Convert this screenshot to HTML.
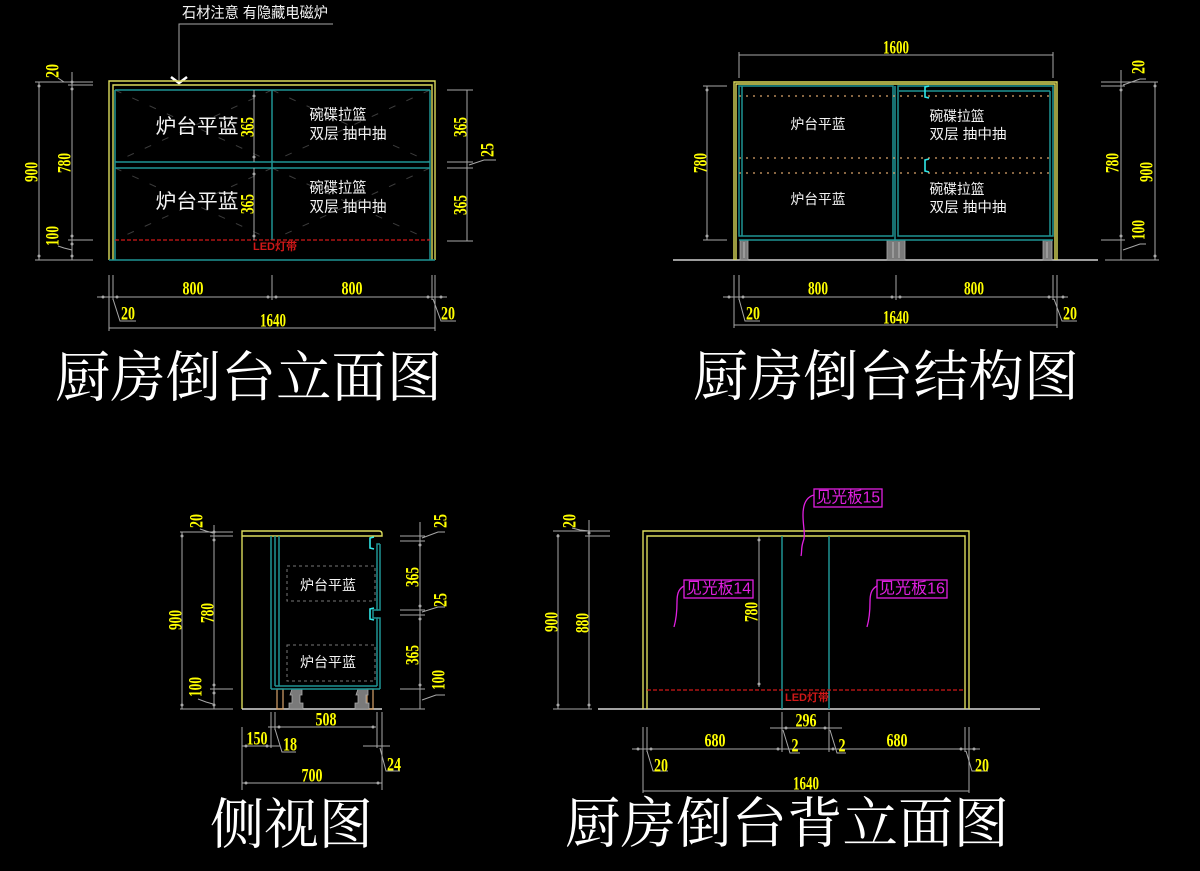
<!DOCTYPE html>
<html><head><meta charset="utf-8"><style>
html,body{margin:0;padding:0;background:#000;}
svg{display:block}
.d{fill:#ffff00;font-family:"Liberation Serif",serif;font-weight:bold;font-size:19px;text-anchor:middle;dominant-baseline:central}
.g{stroke:#a8a8a8;stroke-width:1;fill:none}
.y{stroke:#dcdc5c;stroke-width:1.4;fill:none}
.t{stroke:#1f9494;stroke-width:1.5;fill:none}
.w{fill:#f4f4f4;font-family:"Liberation Sans","Noto Sans CJK SC",sans-serif;text-anchor:middle;dominant-baseline:central}
.ti{fill:#fff;font-family:"Liberation Serif","Noto Serif CJK SC",serif;font-size:55px;dominant-baseline:central}
.m{fill:#e020e0;font-family:"Liberation Sans","Noto Sans CJK SC",sans-serif;font-size:16px;dominant-baseline:central}
.r{fill:#d01818;font-family:"Liberation Sans","Noto Sans CJK SC",sans-serif;font-size:11px;font-weight:bold;text-anchor:middle;dominant-baseline:central}
.dg{stroke:#3c3c3c;stroke-width:1;stroke-dasharray:7 12;fill:none}
.rd{stroke:#d01818;stroke-width:1.3;stroke-dasharray:4 2;fill:none}
.od{stroke:#d9a46a;stroke-width:1.3;stroke-dasharray:2 5;fill:none}
.gd{stroke:#777;stroke-width:1;stroke-dasharray:3 3;fill:none}
.dot{fill:#a8a8a8}
</style></head><body>
<svg width="1200" height="871" viewBox="0 0 1200 871" xmlns="http://www.w3.org/2000/svg">
<rect width="1200" height="871" fill="#000"/>

<!-- ================= TOP LEFT ================= -->
<text class="w" x="255" y="13" font-size="15" textLength="146" lengthAdjust="spacingAndGlyphs">石材注意 有隐藏电磁炉</text>
<polyline class="g" points="333,24 179,24 179,80"/>
<polyline points="171,77 179,83 187,77" stroke="#fff" stroke-width="2.5" fill="none"/>

<g class="dg">
<line x1="115" y1="90" x2="272" y2="162"/><line x1="272" y1="90" x2="115" y2="162"/>
<line x1="272" y1="90" x2="430" y2="162"/><line x1="430" y1="90" x2="272" y2="162"/>
<line x1="115" y1="168" x2="272" y2="240"/><line x1="272" y1="168" x2="115" y2="240"/>
<line x1="272" y1="168" x2="430" y2="240"/><line x1="430" y1="168" x2="272" y2="240"/>
</g>
<polyline class="y" points="109,260 109,81 435,81 435,260"/>
<polyline class="y" points="113,260 113,85 432,85 432,260"/>
<g class="t">
<line x1="115" y1="90" x2="430" y2="90"/>
<line x1="115" y1="162" x2="430" y2="162"/>
<line x1="115" y1="168" x2="430" y2="168"/>
<line x1="109" y1="260" x2="435" y2="260"/>
<line x1="115" y1="90" x2="115" y2="260"/>
<line x1="430" y1="90" x2="430" y2="260"/>
<line x1="272" y1="90" x2="272" y2="240"/>
</g>
<line class="rd" x1="115" y1="240" x2="430" y2="240"/>
<text class="r" x="275" y="247">LED灯带</text>
<line class="g" x1="254" y1="90" x2="254" y2="162"/>
<line class="g" x1="254" y1="168" x2="254" y2="240"/>
<circle class="dot" cx="254" cy="96" r="1.5"/><circle class="dot" cx="254" cy="157" r="1.5"/>
<circle class="dot" cx="254" cy="174" r="1.5"/><circle class="dot" cx="254" cy="236" r="1.5"/>
<text class="d" transform="translate(248,127) rotate(-90)" textLength="20" lengthAdjust="spacingAndGlyphs">365</text>
<text class="d" transform="translate(248,204) rotate(-90)" textLength="20" lengthAdjust="spacingAndGlyphs">365</text>
<text class="w" x="197" y="127" font-size="20" textLength="83" lengthAdjust="spacingAndGlyphs">炉台平蓝</text>
<text class="w" x="197" y="202" font-size="20" textLength="83" lengthAdjust="spacingAndGlyphs">炉台平蓝</text>
<text class="w" x="338" y="115" font-size="15" textLength="57" lengthAdjust="spacingAndGlyphs">碗碟拉篮</text>
<text class="w" x="348" y="134" font-size="15" textLength="77" lengthAdjust="spacingAndGlyphs">双层 抽中抽</text>
<text class="w" x="338" y="188" font-size="15" textLength="57" lengthAdjust="spacingAndGlyphs">碗碟拉篮</text>
<text class="w" x="348" y="207" font-size="15" textLength="77" lengthAdjust="spacingAndGlyphs">双层 抽中抽</text>
<g class="g">
<line x1="35" y1="82" x2="93" y2="82"/><line x1="68" y1="85" x2="93" y2="85"/>
<line x1="68" y1="240" x2="93" y2="240"/><line x1="35" y1="260" x2="93" y2="260"/>
<line x1="39" y1="82" x2="39" y2="260"/>
<line x1="72" y1="72" x2="72" y2="260"/>
<polyline points="58,78 64,82 72,82"/><polyline points="58,246 64,248 72,250"/>
</g>
<circle class="dot" cx="39" cy="86" r="1.5"/><circle class="dot" cx="39" cy="256" r="1.5"/>
<circle class="dot" cx="72" cy="82" r="1.5"/><circle class="dot" cx="72" cy="89" r="1.5"/>
<circle class="dot" cx="72" cy="236" r="1.5"/><circle class="dot" cx="72" cy="244" r="1.5"/><circle class="dot" cx="72" cy="256" r="1.5"/>
<text class="d" transform="translate(32,172) rotate(-90)" textLength="20" lengthAdjust="spacingAndGlyphs">900</text>
<text class="d" transform="translate(65,163) rotate(-90)" textLength="20" lengthAdjust="spacingAndGlyphs">780</text>
<text class="d" transform="translate(53,71) rotate(-90)" textLength="14" lengthAdjust="spacingAndGlyphs">20</text>
<text class="d" transform="translate(53,236) rotate(-90)" textLength="20" lengthAdjust="spacingAndGlyphs">100</text>
<g class="g">
<line x1="447" y1="90" x2="473" y2="90"/><line x1="447" y1="162" x2="473" y2="162"/>
<line x1="447" y1="168" x2="473" y2="168"/><line x1="447" y1="241" x2="473" y2="241"/>
<line x1="467" y1="90" x2="467" y2="241"/>
<polyline points="469,165 484,160 496,160"/>
</g>
<text class="d" transform="translate(461,127) rotate(-90)" textLength="20" lengthAdjust="spacingAndGlyphs">365</text>
<text class="d" transform="translate(461,205) rotate(-90)" textLength="20" lengthAdjust="spacingAndGlyphs">365</text>
<text class="d" transform="translate(488,150) rotate(-90)" textLength="14" lengthAdjust="spacingAndGlyphs">25</text>
<g class="g">
<line x1="109" y1="275" x2="109" y2="331"/><line x1="113" y1="275" x2="113" y2="300"/>
<line x1="272" y1="275" x2="272" y2="300"/><line x1="432" y1="275" x2="432" y2="300"/>
<line x1="435" y1="275" x2="435" y2="331"/>
<line x1="97" y1="297" x2="447" y2="297"/>
<line x1="109" y1="328" x2="435" y2="328"/>
<polyline points="113,299 120,321 136,321"/><polyline points="433,299 441,321 456,321"/>
</g>
<circle class="dot" cx="103" cy="297" r="1.5"/><circle class="dot" cx="117" cy="297" r="1.5"/><circle class="dot" cx="268" cy="297" r="1.5"/>
<circle class="dot" cx="276" cy="297" r="1.5"/><circle class="dot" cx="428" cy="297" r="1.5"/><circle class="dot" cx="441" cy="297" r="1.5"/>
<text class="d" x="193" y="289" textLength="21" lengthAdjust="spacingAndGlyphs">800</text>
<text class="d" x="352" y="289" textLength="21" lengthAdjust="spacingAndGlyphs">800</text>
<text class="d" x="128" y="314" textLength="14" lengthAdjust="spacingAndGlyphs">20</text>
<text class="d" x="448" y="314" textLength="14" lengthAdjust="spacingAndGlyphs">20</text>
<text class="d" x="273" y="321" textLength="26" lengthAdjust="spacingAndGlyphs">1640</text>

<text class="ti" x="55" y="378" textLength="387" lengthAdjust="spacingAndGlyphs">厨房倒台立面图</text>

<!-- ================= TOP RIGHT ================= -->
<g class="g">
<line x1="739" y1="52" x2="739" y2="78"/><line x1="1053" y1="52" x2="1053" y2="78"/>
<line x1="739" y1="55" x2="1053" y2="55"/>
</g>
<text class="d" x="896" y="48" textLength="26" lengthAdjust="spacingAndGlyphs">1600</text>
<line x1="673" y1="260" x2="1098" y2="260" stroke="#d0d0d0" stroke-width="1.4"/>
<g fill="#7a7a7a" stroke="#aaa" stroke-width="0.8">
<rect x="740" y="240" width="8" height="20"/>
<rect x="887" y="240" width="18" height="20"/>
<rect x="1043" y="240" width="9" height="20"/>
</g>
<g stroke="#ccc" stroke-width="0.8">
<line x1="744" y1="242" x2="744" y2="258"/><line x1="893" y1="242" x2="893" y2="258"/><line x1="899" y1="242" x2="899" y2="258"/><line x1="1047" y1="242" x2="1047" y2="258"/>
</g>
<polyline class="y" points="734,260 734,82 1057,82 1057,260"/>
<polyline class="y" points="736,260 736,84 1055,84 1055,260"/>
<g class="t">
<rect x="739" y="86" width="154" height="150"/>
<line x1="742" y1="86" x2="742" y2="236"/>
<rect x="898" y="86" width="155" height="150"/>
<line x1="899" y1="91" x2="1050" y2="91"/>
<line x1="1050" y1="91" x2="1050" y2="236"/>
<line x1="895" y1="86" x2="895" y2="240"/>
<line x1="739" y1="240" x2="1053" y2="240"/>
</g>
<line class="od" x1="739" y1="96" x2="1053" y2="96"/>
<line class="od" x1="739" y1="158" x2="1053" y2="158"/>
<line class="od" x1="739" y1="173" x2="1053" y2="173"/>
<g stroke="#30e8e8" stroke-width="1.6" fill="none">
<polyline points="929,86 925,87 925,97 929,98"/>
<polyline points="929,159 925,160 925,171 929,172"/>
</g>
<text class="w" x="818" y="124" font-size="14" textLength="55" lengthAdjust="spacingAndGlyphs">炉台平蓝</text>
<text class="w" x="818" y="199" font-size="14" textLength="55" lengthAdjust="spacingAndGlyphs">炉台平蓝</text>
<text class="w" x="957" y="116" font-size="14" textLength="55" lengthAdjust="spacingAndGlyphs">碗碟拉篮</text>
<text class="w" x="968" y="134" font-size="14" textLength="77" lengthAdjust="spacingAndGlyphs">双层 抽中抽</text>
<text class="w" x="957" y="189" font-size="14" textLength="55" lengthAdjust="spacingAndGlyphs">碗碟拉篮</text>
<text class="w" x="968" y="207" font-size="14" textLength="77" lengthAdjust="spacingAndGlyphs">双层 抽中抽</text>
<g class="g">
<line x1="703" y1="86" x2="727" y2="86"/><line x1="703" y1="240" x2="727" y2="240"/>
<line x1="707" y1="86" x2="707" y2="240"/>
</g>
<circle class="dot" cx="707" cy="90" r="1.5"/><circle class="dot" cx="707" cy="236" r="1.5"/>
<text class="d" transform="translate(701,163) rotate(-90)" textLength="20" lengthAdjust="spacingAndGlyphs">780</text>
<g class="g">
<line x1="1101" y1="82" x2="1158" y2="82"/><line x1="1101" y1="86" x2="1125" y2="86"/>
<line x1="1101" y1="240" x2="1125" y2="240"/><line x1="1105" y1="260" x2="1159" y2="260"/>
<line x1="1121" y1="70" x2="1121" y2="260"/>
<line x1="1155" y1="82" x2="1155" y2="260"/>
<polyline points="1123,85 1140,79 1146,79"/><polyline points="1123,250 1140,244 1146,244"/>
</g>
<circle class="dot" cx="1121" cy="90" r="1.5"/><circle class="dot" cx="1121" cy="236" r="1.5"/>
<circle class="dot" cx="1155" cy="86" r="1.5"/><circle class="dot" cx="1155" cy="256" r="1.5"/>
<text class="d" transform="translate(1113,163) rotate(-90)" textLength="20" lengthAdjust="spacingAndGlyphs">780</text>
<text class="d" transform="translate(1147,172) rotate(-90)" textLength="20" lengthAdjust="spacingAndGlyphs">900</text>
<text class="d" transform="translate(1139,67) rotate(-90)" textLength="14" lengthAdjust="spacingAndGlyphs">20</text>
<text class="d" transform="translate(1139,230) rotate(-90)" textLength="20" lengthAdjust="spacingAndGlyphs">100</text>
<g class="g">
<line x1="734" y1="275" x2="734" y2="328"/><line x1="739" y1="275" x2="739" y2="300"/>
<line x1="896" y1="275" x2="896" y2="300"/><line x1="1053" y1="275" x2="1053" y2="300"/>
<line x1="1057" y1="275" x2="1057" y2="328"/>
<line x1="723" y1="297" x2="1068" y2="297"/>
<line x1="734" y1="325" x2="1057" y2="325"/>
<polyline points="739,299 745,321 760,321"/><polyline points="1054,299 1062,321 1077,321"/>
</g>
<circle class="dot" cx="729" cy="297" r="1.5"/><circle class="dot" cx="743" cy="297" r="1.5"/><circle class="dot" cx="892" cy="297" r="1.5"/>
<circle class="dot" cx="900" cy="297" r="1.5"/><circle class="dot" cx="1049" cy="297" r="1.5"/><circle class="dot" cx="1063" cy="297" r="1.5"/>
<text class="d" x="818" y="289" textLength="20" lengthAdjust="spacingAndGlyphs">800</text>
<text class="d" x="974" y="289" textLength="20" lengthAdjust="spacingAndGlyphs">800</text>
<text class="d" x="753" y="314" textLength="14" lengthAdjust="spacingAndGlyphs">20</text>
<text class="d" x="1070" y="314" textLength="14" lengthAdjust="spacingAndGlyphs">20</text>
<text class="d" x="896" y="318" textLength="26" lengthAdjust="spacingAndGlyphs">1640</text>

<text class="ti" x="693" y="377" textLength="386" lengthAdjust="spacingAndGlyphs">厨房倒台结构图</text>

<!-- ================= SIDE VIEW ================= -->
<path class="y" d="M242,709 L242,531 L379,531 Q382,531 382,534 L382,536 L242,536"/>
<line x1="242" y1="709" x2="382" y2="709" stroke="#d8d8d8" stroke-width="1.4"/>
<g stroke="#d9a46a" stroke-width="1.2" fill="none">
<rect x="277" y="689" width="6" height="20"/>
<rect x="367" y="689" width="6" height="20"/>
</g>
<g fill="#7a7a7a" stroke="#aaa" stroke-width="0.8">
<path d="M292,689 h10 v6 h-2 v8 h3 v6 h-14 v-6 h3 v-8 h-2 z"/>
<path d="M358,689 h10 v6 h-2 v8 h3 v6 h-14 v-6 h3 v-8 h-2 z"/>
</g>
<g class="t">
<line x1="271" y1="536" x2="271" y2="689"/>
<line x1="275" y1="536" x2="275" y2="686"/>
<line x1="279" y1="536" x2="279" y2="686"/>
<line x1="271" y1="689" x2="380" y2="689"/>
<line x1="275" y1="686" x2="377" y2="686"/>
<polyline points="380,544 377,544 377,610 373,610 373,618 377,618 377,686"/>
<polyline points="380,689 380,618 377,618"/>
<polyline points="380,544 380,610 377,610"/>
</g>
<g stroke="#30e8e8" stroke-width="1.6" fill="none">
<polyline points="374,537 370,538 370,548 374,549"/>
<polyline points="374,608 370,609 370,619 374,620"/>
</g>
<rect class="gd" x="287" y="566" width="88" height="35"/>
<rect class="gd" x="287" y="645" width="88" height="36"/>
<text class="w" x="328" y="585" font-size="14" textLength="56" lengthAdjust="spacingAndGlyphs">炉台平蓝</text>
<text class="w" x="328" y="662" font-size="14" textLength="56" lengthAdjust="spacingAndGlyphs">炉台平蓝</text>
<g class="g">
<line x1="180" y1="532" x2="233" y2="532"/><line x1="210" y1="536" x2="233" y2="536"/>
<line x1="210" y1="689" x2="233" y2="689"/><line x1="180" y1="709" x2="233" y2="709"/>
<line x1="182" y1="532" x2="182" y2="709"/>
<line x1="214" y1="525" x2="214" y2="709"/>
<polyline points="200,529 206,531 213,533"/><polyline points="198,699 206,702 213,704"/>
</g>
<circle class="dot" cx="182" cy="536" r="1.5"/><circle class="dot" cx="182" cy="705" r="1.5"/>
<circle class="dot" cx="214" cy="532" r="1.5"/><circle class="dot" cx="214" cy="540" r="1.5"/>
<circle class="dot" cx="214" cy="685" r="1.5"/><circle class="dot" cx="214" cy="693" r="1.5"/><circle class="dot" cx="214" cy="705" r="1.5"/>
<text class="d" transform="translate(176,620) rotate(-90)" textLength="20" lengthAdjust="spacingAndGlyphs">900</text>
<text class="d" transform="translate(208,613) rotate(-90)" textLength="20" lengthAdjust="spacingAndGlyphs">780</text>
<text class="d" transform="translate(197,521) rotate(-90)" textLength="14" lengthAdjust="spacingAndGlyphs">20</text>
<text class="d" transform="translate(196,687) rotate(-90)" textLength="20" lengthAdjust="spacingAndGlyphs">100</text>
<g class="g">
<line x1="400" y1="536" x2="425" y2="536"/><line x1="400" y1="541" x2="425" y2="541"/>
<line x1="400" y1="610" x2="425" y2="610"/><line x1="400" y1="615" x2="425" y2="615"/>
<line x1="400" y1="689" x2="425" y2="689"/><line x1="400" y1="709" x2="425" y2="709"/>
<line x1="420" y1="522" x2="420" y2="709"/>
<polyline points="422,538 438,532 445,532"/><polyline points="422,612 438,607 445,607"/><polyline points="422,700 436,695 445,695"/>
</g>
<circle class="dot" cx="420" cy="545" r="1.5"/><circle class="dot" cx="420" cy="606" r="1.5"/>
<circle class="dot" cx="420" cy="619" r="1.5"/><circle class="dot" cx="420" cy="685" r="1.5"/>
<text class="d" transform="translate(441,521) rotate(-90)" textLength="14" lengthAdjust="spacingAndGlyphs">25</text>
<text class="d" transform="translate(413,577) rotate(-90)" textLength="20" lengthAdjust="spacingAndGlyphs">365</text>
<text class="d" transform="translate(441,600) rotate(-90)" textLength="14" lengthAdjust="spacingAndGlyphs">25</text>
<text class="d" transform="translate(413,655) rotate(-90)" textLength="20" lengthAdjust="spacingAndGlyphs">365</text>
<text class="d" transform="translate(439,680) rotate(-90)" textLength="20" lengthAdjust="spacingAndGlyphs">100</text>
<g class="g">
<line x1="271" y1="712" x2="271" y2="748"/><line x1="275" y1="712" x2="275" y2="730"/>
<line x1="377" y1="712" x2="377" y2="748"/>
<line x1="242" y1="727" x2="242" y2="790"/><line x1="382" y1="712" x2="382" y2="790"/>
<line x1="268" y1="727" x2="376" y2="727"/>
<line x1="242" y1="746" x2="280" y2="746"/>
<line x1="363" y1="746" x2="390" y2="746"/>
<line x1="242" y1="783" x2="382" y2="783"/>
<polyline points="275,729 282,752 296,752"/><polyline points="380,748 386,771 400,771"/>
</g>
<circle class="dot" cx="246" cy="746" r="1.5"/><circle class="dot" cx="267" cy="746" r="1.5"/>
<circle class="dot" cx="279" cy="727" r="1.5"/><circle class="dot" cx="373" cy="727" r="1.5"/>
<circle class="dot" cx="246" cy="783" r="1.5"/><circle class="dot" cx="378" cy="783" r="1.5"/>
<text class="d" x="326" y="720" textLength="21" lengthAdjust="spacingAndGlyphs">508</text>
<text class="d" x="257" y="739" textLength="21" lengthAdjust="spacingAndGlyphs">150</text>
<text class="d" x="290" y="745" textLength="14" lengthAdjust="spacingAndGlyphs">18</text>
<text class="d" x="394" y="765" textLength="14" lengthAdjust="spacingAndGlyphs">24</text>
<text class="d" x="312" y="776" textLength="21" lengthAdjust="spacingAndGlyphs">700</text>

<text class="ti" x="210" y="825" textLength="163" lengthAdjust="spacingAndGlyphs">侧视图</text>

<!-- ================= BACK ELEVATION ================= -->
<line x1="598" y1="709" x2="1040" y2="709" stroke="#d8d8d8" stroke-width="1.4"/>
<polyline class="y" points="643,709 643,531 969,531 969,709"/>
<polyline class="y" points="647,709 647,536 965,536 965,709"/>
<g class="t">
<line x1="782" y1="536" x2="782" y2="709"/>
<line x1="829" y1="536" x2="829" y2="709"/>
</g>
<line class="rd" x1="647" y1="690" x2="965" y2="690"/>
<text class="r" x="807" y="698">LED灯带</text>
<line class="g" x1="759" y1="536" x2="759" y2="687"/>
<circle class="dot" cx="759" cy="540" r="1.5"/><circle class="dot" cx="759" cy="684" r="1.5"/>
<text class="d" transform="translate(752,612) rotate(-90)" textLength="20" lengthAdjust="spacingAndGlyphs">780</text>
<g stroke="#e020e0" stroke-width="1.3" fill="none">
<rect x="814" y="489" width="68" height="18"/>
<path d="M814,495 C806,497 803,505 803,515 C803,528 806,535 803,542 C801,548 802,552 801,556"/>
<rect x="684" y="580" width="69" height="18"/>
<path d="M684,586 C678,589 677,595 677,602 C677,612 676,620 674,627"/>
<rect x="877" y="580" width="70" height="18"/>
<path d="M877,586 C871,589 870,595 870,602 C870,612 869,620 867,627"/>
</g>
<text class="m" x="816" y="498" textLength="64" lengthAdjust="spacingAndGlyphs">见光板15</text>
<text class="m" x="686" y="589" textLength="65" lengthAdjust="spacingAndGlyphs">见光板14</text>
<text class="m" x="879" y="589" textLength="66" lengthAdjust="spacingAndGlyphs">见光板16</text>
<g class="g">
<line x1="553" y1="531" x2="610" y2="531"/><line x1="585" y1="536" x2="610" y2="536"/>
<line x1="553" y1="709" x2="592" y2="709"/>
<line x1="558" y1="534" x2="558" y2="709"/>
<line x1="589" y1="520" x2="589" y2="709"/>
<polyline points="572,528 580,530 589,531"/>
</g>
<circle class="dot" cx="558" cy="536" r="1.5"/><circle class="dot" cx="558" cy="705" r="1.5"/>
<circle class="dot" cx="589" cy="533" r="1.5"/><circle class="dot" cx="589" cy="705" r="1.5"/>
<text class="d" transform="translate(552,622) rotate(-90)" textLength="20" lengthAdjust="spacingAndGlyphs">900</text>
<text class="d" transform="translate(583,623) rotate(-90)" textLength="20" lengthAdjust="spacingAndGlyphs">880</text>
<text class="d" transform="translate(570,521) rotate(-90)" textLength="14" lengthAdjust="spacingAndGlyphs">20</text>
<g class="g">
<line x1="643" y1="727" x2="643" y2="793"/><line x1="647" y1="727" x2="647" y2="752"/>
<line x1="782" y1="712" x2="782" y2="752"/><line x1="829" y1="712" x2="829" y2="752"/>
<line x1="965" y1="727" x2="965" y2="752"/><line x1="969" y1="727" x2="969" y2="793"/>
<line x1="770" y1="728" x2="842" y2="728"/>
<line x1="632" y1="749" x2="980" y2="749"/>
<line x1="643" y1="791" x2="969" y2="791"/>
<polyline points="647,751 653,771 668,771"/><polyline points="966,751 972,771 988,771"/>
<polyline points="783,730 790,753 800,753"/><polyline points="830,730 837,753 846,753"/>
</g>
<circle class="dot" cx="638" cy="749" r="1.5"/><circle class="dot" cx="651" cy="749" r="1.5"/>
<circle class="dot" cx="778" cy="749" r="1.5"/><circle class="dot" cx="833" cy="749" r="1.5"/>
<circle class="dot" cx="961" cy="749" r="1.5"/><circle class="dot" cx="974" cy="749" r="1.5"/>
<circle class="dot" cx="786" cy="728" r="1.5"/><circle class="dot" cx="825" cy="728" r="1.5"/>
<text class="d" x="806" y="721" textLength="21" lengthAdjust="spacingAndGlyphs">296</text>
<text class="d" x="715" y="741" textLength="21" lengthAdjust="spacingAndGlyphs">680</text>
<text class="d" x="897" y="741" textLength="21" lengthAdjust="spacingAndGlyphs">680</text>
<text class="d" x="795" y="746" textLength="7" lengthAdjust="spacingAndGlyphs">2</text>
<text class="d" x="842" y="746" textLength="7" lengthAdjust="spacingAndGlyphs">2</text>
<text class="d" x="661" y="766" textLength="14" lengthAdjust="spacingAndGlyphs">20</text>
<text class="d" x="982" y="766" textLength="14" lengthAdjust="spacingAndGlyphs">20</text>
<text class="d" x="806" y="784" textLength="26" lengthAdjust="spacingAndGlyphs">1640</text>

<text class="ti" x="565" y="824" textLength="444" lengthAdjust="spacingAndGlyphs">厨房倒台背立面图</text>
</svg>
</body></html>
